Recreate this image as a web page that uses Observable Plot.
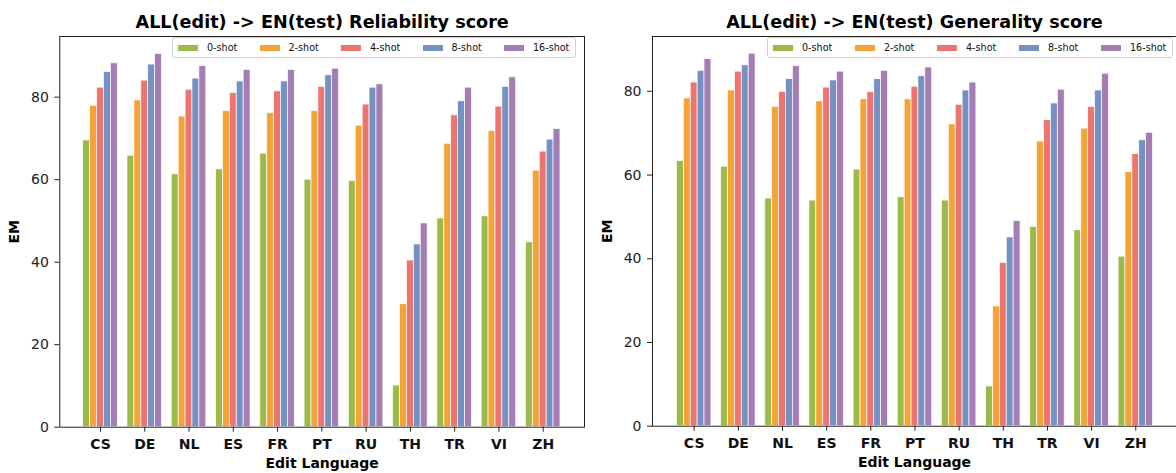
<!DOCTYPE html>
<html>
<head>
<meta charset="utf-8">
<script src="https://cdn.jsdelivr.net/npm/d3@7"></script>
<script src="https://cdn.jsdelivr.net/npm/@observablehq/plot@0.6"></script>
<style>
  html, body { margin: 0; padding: 0; background: #fff; }
  #wrap { position: relative; width: 1176px; height: 473px; display: flex; font-family: "DejaVu Sans", sans-serif; }
  .panel { position: relative; width: 588px; height: 473px; }
  .panel svg { display: block; }
  .legend { position: absolute; height: 21px; border: 1px solid #d0d0d0; border-radius: 3px; background: rgba(255,255,255,0.85); box-sizing: border-box; }
  .legend .item { position: absolute; top: 0; height: 19px; display: flex; align-items: center; font-size: 9.6px; color: #111; white-space: nowrap; }
  .legend .sw { width: 20px; height: 6px; margin-right: 9px; }
  g[aria-label="x-axis tick label"] text { font-weight: bold; }
</style>
</head>
<body>
<div id="wrap"></div>
<script>
// ---- data ----
const langs = ["CS", "DE", "NL", "ES", "FR", "PT", "RU", "TH", "TR", "VI", "ZH"];
const shots = ["0-shot", "2-shot", "4-shot", "8-shot", "16-shot"];
const shotColors = ["#9bba48", "#f5a336", "#ee756e", "#7590c2", "#a37db4"];

const relShot0  = [69.5, 65.8, 61.3, 62.5, 66.3, 60.0, 59.7, 10.1, 50.6, 51.1, 44.8];
const relShot2  = [77.9, 79.2, 75.3, 76.6, 76.1, 76.6, 73.1, 29.8, 68.7, 71.8, 62.2];
const relShot4  = [82.3, 84.0, 81.8, 81.0, 81.4, 82.5, 78.2, 40.4, 75.6, 77.7, 66.8];
const relShot8  = [86.1, 87.9, 84.5, 83.8, 83.8, 85.3, 82.3, 44.3, 79.0, 82.5, 69.7];
const relShot16 = [88.2, 90.5, 87.5, 86.6, 86.6, 86.9, 83.1, 49.4, 82.3, 84.8, 72.3];

const genShot0  = [63.3, 62.0, 54.4, 53.9, 61.3, 54.7, 53.9, 9.5, 47.6, 46.8, 40.5];
const genShot2  = [78.3, 80.2, 76.3, 77.6, 78.1, 78.1, 72.1, 28.6, 68.0, 71.1, 60.7];
const genShot4  = [82.1, 84.7, 79.9, 80.9, 79.8, 81.1, 76.8, 39.0, 73.1, 76.3, 65.0];
const genShot8  = [84.9, 86.2, 82.9, 82.6, 82.9, 83.6, 80.2, 45.1, 77.1, 80.2, 68.3];
const genShot16 = [87.7, 89.0, 86.0, 84.7, 84.9, 85.7, 82.1, 49.0, 80.4, 84.2, 70.1];

const yTicks = [0, 20, 40, 60, 80];

// ---- build rows ----
function rows(series) {
  const out = [];
  langs.forEach((lang, i) => {
    series.forEach((vals, k) => {
      out.push({ i, lang, k, shot: shots[k], value: vals[i] });
    });
  });
  return out;
}

const BW = 0.156; // bar width in category units

function chart({ title, data, yMax, marginLeft, marginRight, marginTop, marginBottom, xDomain, legendLeft, legendStep }) {
  const plot = Plot.plot({
    width: 588,
    height: 473,
    marginLeft, marginRight, marginTop, marginBottom,
    style: { fontFamily: "DejaVu Sans, sans-serif", fontSize: "14px", color: "#111", background: "#fff", overflow: "visible" },
    x: { type: "linear", domain: xDomain, axis: null },
    y: { domain: [0, yMax], axis: null },
    color: { domain: shots, range: shotColors },
    marks: [
      Plot.rect(data, {
        x1: d => d.i + (d.k - 2) * BW - BW / 2,
        x2: d => d.i + (d.k - 2) * BW + BW / 2,
        y1: 0,
        y2: "value",
        fill: "shot",
        stroke: "#fff",
        strokeWidth: 0.7
      }),
      Plot.axisX(d3.range(langs.length), {
        tickFormat: i => langs[i], tickSize: 5, tickPadding: 6.7,
        fontSize: 14, stroke: "#222", fill: "#111", label: null
      }),
      Plot.axisY(yTicks, {
        tickSize: 5, tickPadding: 6, fontSize: 14, stroke: "#222", fill: "#222", label: null
      }),
      Plot.frame({ stroke: "#222", strokeWidth: 1 }),
      Plot.text([title], {
        text: d => d, frameAnchor: "top", lineAnchor: "bottom", dy: -8.5,
        fontWeight: "bold", fontSize: 17.6, fill: "#000"
      }),
      Plot.text(["EM"], {
        text: d => d, frameAnchor: "left", rotate: -90, dx: -45.3,
        textAnchor: "middle", lineAnchor: "middle", fontWeight: "bold", fontSize: 14, fill: "#000"
      }),
      Plot.text(["Edit Language"], {
        text: d => d, frameAnchor: "bottom", lineAnchor: "middle", dy: 36.6,
        fontWeight: "bold", fontSize: 14, fill: "#000"
      })
    ]
  });
  const panel = document.createElement("div");
  panel.className = "panel";
  panel.appendChild(plot);
  const lg = document.createElement("div");
  lg.className = "legend";
  lg.style.left = legendLeft + "px";
  lg.style.top = "37px";
  lg.style.width = (legendStep * 5 - 4) + "px";
  shots.forEach((s, k) => {
    const it = document.createElement("div");
    it.className = "item";
    it.style.left = (5 + k * legendStep) + "px";
    const sw = document.createElement("span");
    sw.className = "sw";
    sw.style.background = shotColors[k];
    const tx = document.createElement("span");
    tx.textContent = s;
    it.appendChild(sw);
    it.appendChild(tx);
    lg.appendChild(it);
  });
  panel.appendChild(lg);
  return panel;
}

const wrap = document.getElementById("wrap");
wrap.appendChild(chart({
  title: "ALL(edit) -> EN(test) Reliability score",
  data: rows([relShot0, relShot2, relShot4, relShot8, relShot16]),
  yMax: 94.7,
  marginLeft: 59.3, marginRight: 4, marginTop: 36, marginBottom: 46.3,
  xDomain: [-0.919, 10.933],
  legendLeft: 172, legendStep: 81.5
}));
wrap.appendChild(chart({
  title: "ALL(edit) -> EN(test) Generality score",
  data: rows([genShot0, genShot2, genShot4, genShot8, genShot16]),
  yMax: 93.1,
  marginLeft: 64, marginRight: 0, marginTop: 36, marginBottom: 47.3,
  xDomain: [-0.944, 10.922],
  legendLeft: 179, legendStep: 82
}));
</script>
</body>
</html>
